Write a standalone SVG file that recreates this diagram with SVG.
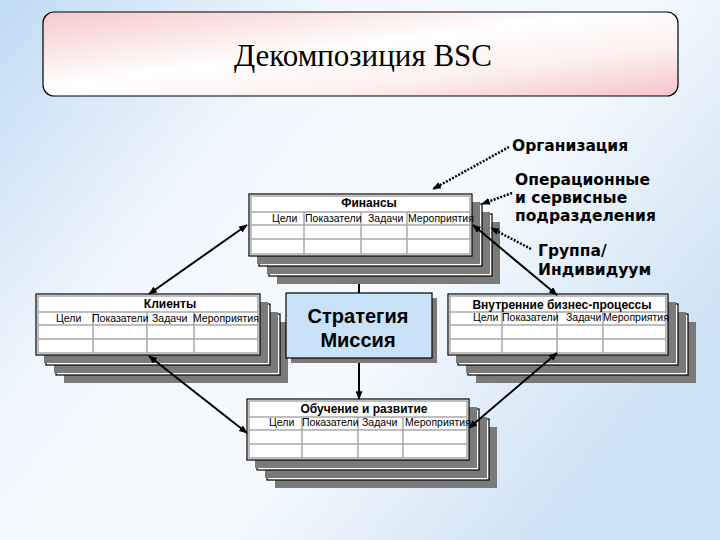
<svg xmlns="http://www.w3.org/2000/svg" width="720" height="540" viewBox="0 0 720 540">
<defs>
<linearGradient id="bg" x1="0" y1="0" x2="1" y2="0.6">
<stop offset="0" stop-color="#c0dbf3"/>
<stop offset="0.35" stop-color="#f1f7fd"/>
<stop offset="0.65" stop-color="#f6fafe"/>
<stop offset="1" stop-color="#cde2f4"/>
</linearGradient>
<linearGradient id="tb" x1="0" y1="0" x2="1" y2="1">
<stop offset="0" stop-color="#f6c9cb"/>
<stop offset="0.45" stop-color="#ffffff"/>
<stop offset="0.7" stop-color="#fdf0f0"/>
<stop offset="1" stop-color="#f6c5c6"/>
</linearGradient>
<marker id="ah" viewBox="0 0 10 8" refX="9" refY="4" markerWidth="9" markerHeight="7" markerUnits="userSpaceOnUse" orient="auto-start-reverse">
<path d="M0,0 L10,4 L0,8 z" fill="#000"/>
</marker>
<style>
.sh{fill:#7a7a7a}
.cd{fill:#fff;stroke:#000;stroke-width:1.2}
.gr{fill:none;stroke:#a9a9a9;stroke-width:1.5}
.hd{font-family:"Liberation Sans",Arial,sans-serif;font-size:12px;font-weight:bold;fill:#000;text-anchor:middle}
.sb{font-family:"Liberation Sans",Arial,sans-serif;font-size:10.5px;fill:#000}
.ln{fill:none;stroke:#000;stroke-width:2}
.dt{fill:none;stroke:#000;stroke-width:2.5;stroke-dasharray:2 1.5}
.lb{font-family:"DejaVu Sans",Verdana,sans-serif;font-size:15.5px;font-weight:bold;fill:#000}
</style>
</defs>
<rect width="720" height="540" fill="url(#bg)"/>

<g id="title">
<rect x="43" y="12" width="635" height="84" rx="11" fill="url(#tb)" stroke="#000" stroke-width="1.2"/>
<text x="363" y="66" font-family="Liberation Serif,'Times New Roman',serif" font-size="31" text-anchor="middle" fill="#000">Декомпозиция BSC</text>
</g>

<g id="finansy">
<rect class="sh" x="277" y="222" width="223" height="62"/>
<rect class="cd" x="269" y="214" width="223" height="62"/>
<rect class="sh" x="267" y="212" width="223" height="62"/>
<rect class="cd" x="259" y="204" width="223" height="62"/>
<rect class="sh" x="257" y="202" width="223" height="62"/>
<rect class="cd" x="249" y="194" width="223" height="62"/>
<rect class="gr" x="251" y="196" width="219" height="58"/>
<path class="gr" d="M251,212 H470 M251,225 H470 M251,239 H470 M304,212 V254 M361,212 V254 M407,212 V254"/>
<text class="hd" x="369" y="207">Финансы</text>
<text class="sb" y="222"><tspan x="272">Цели</tspan><tspan x="305">Показатели</tspan><tspan x="368">Задачи</tspan><tspan x="408">Мероприятия</tspan></text>
</g>

<g id="clients">
<rect class="sh" x="64" y="322" width="224" height="61"/>
<rect class="cd" x="56" y="314" width="224" height="61"/>
<rect class="sh" x="54" y="312" width="224" height="61"/>
<rect class="cd" x="46" y="304" width="224" height="61"/>
<rect class="sh" x="44" y="302" width="224" height="61"/>
<rect class="cd" x="36" y="294" width="224" height="61"/>
<rect class="gr" x="38" y="296" width="220" height="57"/>
<path class="gr" d="M38,312 H258 M38,325 H258 M38,339 H258 M93,312 V353 M147,312 V353 M194,312 V353"/>
<text class="hd" x="170" y="308">Клиенты</text>
<text class="sb" y="322"><tspan x="56">Цели</tspan><tspan x="92">Показатели</tspan><tspan x="152">Задачи</tspan><tspan x="193">Мероприятия</tspan></text>
</g>

<g id="internal">
<rect class="sh" x="476" y="322" width="220" height="61"/>
<rect class="cd" x="468" y="314" width="220" height="61"/>
<rect class="sh" x="466" y="312" width="220" height="61"/>
<rect class="cd" x="458" y="304" width="220" height="61"/>
<rect class="sh" x="456" y="302" width="220" height="61"/>
<rect class="cd" x="448" y="294" width="220" height="61"/>
<rect class="gr" x="450" y="296" width="216" height="57"/>
<path class="gr" d="M450,312 H666 M450,325 H666 M450,339 H666 M502,312 V353 M557,312 V353 M603,312 V353"/>
<text class="hd" x="562" y="309">Внутренние бизнес-процессы</text>
<text class="sb" y="321"><tspan x="473">Цели</tspan><tspan x="502">Показатели</tspan><tspan x="566">Задачи</tspan><tspan x="603">Мероприятия</tspan></text>
</g>

<g id="learning">
<rect class="sh" x="275" y="427" width="222" height="61"/>
<rect class="cd" x="267" y="419" width="222" height="61"/>
<rect class="sh" x="265" y="417" width="222" height="61"/>
<rect class="cd" x="257" y="409" width="222" height="61"/>
<rect class="sh" x="255" y="407" width="222" height="61"/>
<rect class="cd" x="247" y="399" width="222" height="61"/>
<rect class="gr" x="249" y="401" width="218" height="57"/>
<path class="gr" d="M249,417 H467 M249,430 H467 M249,444 H467 M302,417 V458 M358,417 V458 M403,417 V458"/>
<text class="hd" x="364" y="413">Обучение и развитие</text>
<text class="sb" y="426"><tspan x="269">Цели</tspan><tspan x="302">Показатели</tspan><tspan x="362">Задачи</tspan><tspan x="405">Мероприятия</tspan></text>
</g>

<g id="strategy">
<rect x="291" y="298" width="146" height="65" fill="#7a7a7a"/>
<rect x="286" y="293" width="146" height="65" fill="#c9e2f8" stroke="#000" stroke-width="1.2"/>
<text font-family="'Liberation Sans',Arial,sans-serif" font-size="20" font-weight="bold" text-anchor="middle" fill="#000"><tspan x="358" y="323">Стратегия</tspan><tspan x="358" y="347">Миссия</tspan></text>
</g>

<g id="labels">
<text class="lb" x="512" y="151">Организация</text>
<text class="lb"><tspan x="515" y="185">Операционные</tspan><tspan x="515" y="203">и сервисные</tspan><tspan x="515" y="221">подразделения</tspan></text>
<text class="lb"><tspan x="538" y="256">Группа/</tspan><tspan x="538" y="275">Индивидуум</tspan></text>
</g>

<g id="connectors">
<path class="ln" d="M247,225 L149,294" marker-start="url(#ah)" marker-end="url(#ah)"/>
<path class="ln" d="M149,356 L247,433" marker-start="url(#ah)" marker-end="url(#ah)"/>
<path class="ln" d="M469,428 L557,353" marker-start="url(#ah)" marker-end="url(#ah)"/>
<path class="ln" d="M473,225 L557,295" marker-start="url(#ah)" marker-end="url(#ah)"/>
<path class="ln" d="M359,284 L359,293"/>
<path class="ln" d="M359,363 L359,399" marker-end="url(#ah)"/>
<path class="dt" d="M509,147 L433,189" marker-end="url(#ah)"/>
<path class="dt" d="M512,193 L482,204" marker-end="url(#ah)"/>
<path class="dt" d="M531,249 L491,228" marker-end="url(#ah)"/>
</g>
</svg>
